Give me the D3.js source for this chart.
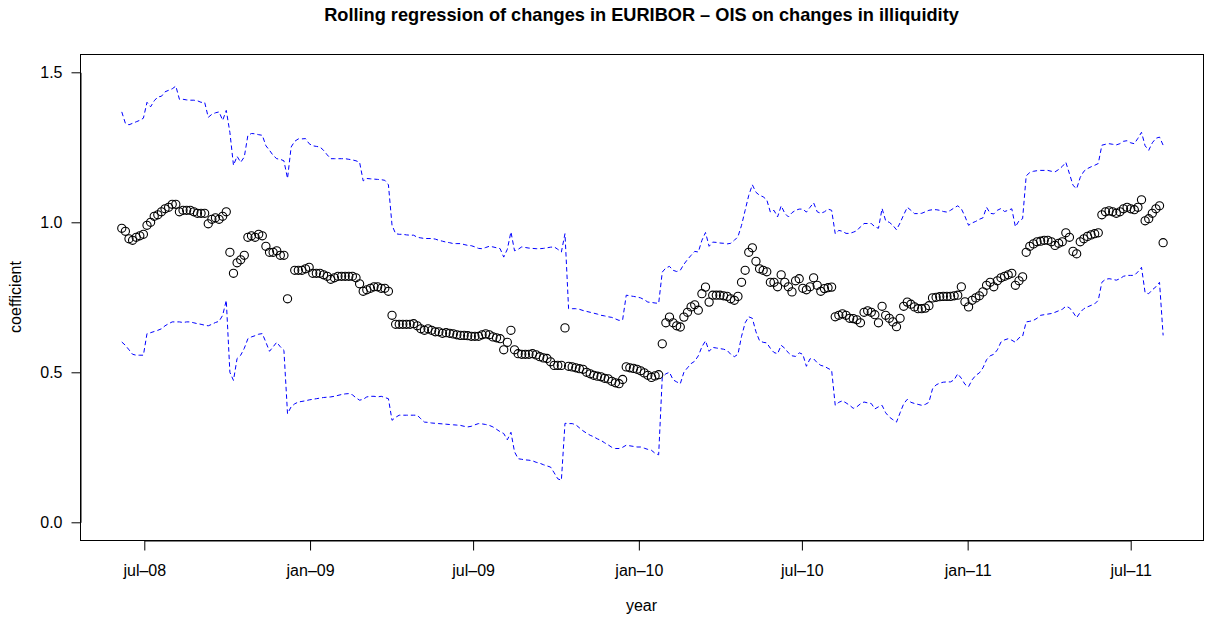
<!DOCTYPE html>
<html>
<head>
<meta charset="utf-8">
<script src="https://cdn.jsdelivr.net/npm/d3@7"></script>
<style>
  html, body { margin: 0; padding: 0; background: #fff; }
  svg { display: block; font-family: "Liberation Sans", Arial, Helvetica, sans-serif; }
</style>
</head>
<body>
<svg id="chart" width="1211" height="619"></svg>
<script>
// ---- data ----
const seriesStart = "2008-06-06";   // first observation
const seriesStepDays = 4;           // spacing of the sampled observations

const coefficient = [
  0.98,0.97,0.945,0.94,0.95,0.955,0.96,0.99,1.00,1.02,
  1.025,1.035,1.045,1.05,1.06,1.06,1.035,1.04,1.04,1.04,
  1.035,1.03,1.03,1.03,0.995,1.01,1.015,1.01,1.02,1.035,
  0.90,0.83,0.865,0.875,0.89,0.95,0.955,0.95,0.96,0.955,
  0.92,0.90,0.90,0.905,0.89,0.89,0.745,null,0.84,0.84,
  0.84,0.845,0.85,0.83,0.83,0.83,0.825,0.82,0.81,0.815,
  0.82,0.82,0.82,0.82,0.82,0.815,0.795,0.77,0.775,0.78,
  0.785,0.785,0.78,0.78,0.77,0.69,0.66,0.66,0.66,0.66,
  0.66,0.662,0.655,0.645,0.64,0.645,0.64,0.635,0.635,0.63,
  0.632,0.63,0.628,0.625,0.623,0.623,0.622,0.62,0.62,0.62,
  0.625,0.628,0.625,0.618,0.615,0.612,0.575,0.60,0.64,0.575,
  0.562,0.56,0.56,0.56,0.562,0.558,0.552,0.548,0.546,0.535,
  0.523,0.523,0.523,0.648,0.52,0.518,0.515,0.512,0.51,0.50,
  0.495,0.49,0.487,0.485,0.48,0.478,0.47,0.465,0.462,0.476,
  0.518,0.515,0.513,0.51,0.505,0.498,0.49,0.483,0.488,0.492,
  0.595,0.665,0.684,0.665,0.655,0.651,0.684,0.70,0.718,0.725,
  0.707,0.762,0.784,0.734,0.757,0.757,0.757,0.755,0.753,0.745,
  0.74,0.753,0.80,0.84,0.90,0.915,0.87,0.845,0.84,0.835,
  0.80,0.80,0.785,0.825,0.80,0.785,0.768,0.805,0.812,0.78,
  0.775,0.785,0.815,0.79,0.77,0.779,0.782,0.784,0.685,0.69,
  0.695,0.69,0.68,0.679,0.675,0.665,0.70,0.705,0.70,0.692,
  0.665,0.72,0.69,0.68,0.668,0.652,0.68,0.72,0.734,0.727,
  0.718,0.712,0.712,0.714,0.722,0.748,0.75,0.752,0.753,0.753,
  0.753,0.755,0.757,0.785,0.735,0.718,0.74,0.748,0.755,0.768,
  0.79,0.80,0.785,0.805,0.815,0.82,0.825,0.83,0.79,0.805,
  0.818,0.90,0.92,0.928,0.935,0.937,0.94,0.94,0.935,0.923,
  0.93,0.935,0.965,0.95,0.903,0.895,0.935,0.945,0.953,0.958,
  0.962,0.965,1.025,1.035,1.038,1.035,1.03,1.035,1.045,1.05,
  1.045,1.042,1.05,1.075,1.005,1.012,1.03,1.045,1.055,0.932
];

const upperBand = [
  1.368,1.33,1.325,1.33,1.335,1.34,1.347,1.40,1.385,1.405,
  1.418,1.42,1.435,1.44,1.445,1.454,1.41,1.41,1.408,1.407,
  1.407,1.405,1.40,1.40,1.35,1.36,1.365,1.368,1.34,1.373,
  1.30,1.19,1.22,1.20,1.218,1.29,1.296,1.295,1.292,1.29,
  1.255,1.24,1.223,1.212,1.21,1.205,1.146,1.251,1.27,1.278,
  1.278,1.279,1.262,1.255,1.253,1.251,1.24,1.225,1.212,1.212,
  1.212,1.212,1.212,1.21,1.208,1.205,1.20,1.138,1.146,1.145,
  1.144,1.143,1.142,1.14,1.125,0.99,0.962,0.96,0.96,0.958,
  0.957,0.957,0.95,0.948,0.946,0.946,0.946,0.944,0.94,0.937,
  0.934,0.932,0.929,0.929,0.929,0.926,0.923,0.922,0.918,0.913,
  0.912,0.916,0.92,0.918,0.915,0.912,0.884,0.91,0.968,0.905,
  0.91,0.918,0.916,0.914,0.913,0.912,0.912,0.913,0.915,0.917,
  0.918,0.91,0.901,0.962,0.712,0.712,0.712,0.71,0.706,0.703,
  0.70,0.697,0.694,0.69,0.688,0.685,0.683,0.678,0.673,0.675,
  0.757,0.755,0.753,0.751,0.748,0.742,0.734,0.733,0.731,0.73,
  0.834,0.848,0.853,0.84,0.836,0.84,0.86,0.876,0.89,0.903,
  0.901,0.94,0.966,0.92,0.934,0.933,0.931,0.93,0.928,0.93,
  0.94,0.952,0.99,1.04,1.09,1.125,1.10,1.09,1.085,1.075,
  1.034,1.04,1.018,1.055,1.03,1.018,1.032,1.04,1.044,1.044,
  1.034,1.05,1.065,1.035,1.03,1.035,1.044,1.04,0.962,0.973,
  0.97,0.963,0.963,0.967,0.972,0.985,0.996,0.996,0.996,0.985,
  0.98,1.046,1.005,1.0,0.99,0.975,0.998,1.025,1.05,1.04,
  1.029,1.029,1.03,1.035,1.04,1.042,1.042,1.04,1.036,1.034,
  1.04,1.048,1.055,1.045,1.02,0.99,0.998,1.003,1.01,1.015,
  1.05,1.03,1.028,1.04,1.046,1.036,1.04,1.045,0.985,1.005,
  1.012,1.155,1.166,1.17,1.172,1.173,1.173,1.173,1.17,1.168,
  1.176,1.186,1.20,1.162,1.123,1.112,1.15,1.17,1.179,1.185,
  1.19,1.196,1.257,1.26,1.262,1.26,1.258,1.262,1.27,1.272,
  1.265,1.262,1.28,1.30,1.255,1.24,1.265,1.28,1.284,1.257
];

const lowerBand = [
  0.601,0.59,0.575,0.56,0.557,0.557,0.557,0.629,0.632,0.636,
  0.64,0.645,0.655,0.662,0.668,0.668,0.668,0.666,0.668,0.668,
  0.665,0.662,0.66,0.657,0.655,0.66,0.666,0.67,0.69,0.74,
  0.50,0.473,0.546,0.557,0.58,0.612,0.618,0.622,0.627,0.629,
  0.60,0.57,0.585,0.60,0.585,0.573,0.362,0.385,0.395,0.401,
  0.403,0.405,0.408,0.41,0.412,0.414,0.416,0.417,0.418,0.42,
  0.423,0.426,0.428,0.429,0.425,0.415,0.407,0.41,0.418,0.42,
  0.42,0.418,0.42,0.416,0.412,0.34,0.35,0.357,0.357,0.357,
  0.357,0.357,0.357,0.345,0.334,0.333,0.331,0.33,0.329,0.328,
  0.327,0.326,0.325,0.324,0.323,0.32,0.318,0.32,0.325,0.329,
  0.328,0.326,0.323,0.318,0.31,0.302,0.296,0.275,0.30,0.235,
  0.212,0.21,0.208,0.207,0.205,0.20,0.197,0.192,0.188,0.184,
  0.165,0.145,0.14,0.33,0.329,0.329,0.325,0.315,0.305,0.297,
  0.29,0.285,0.278,0.273,0.265,0.258,0.25,0.246,0.246,0.25,
  0.257,0.255,0.253,0.251,0.251,0.247,0.243,0.24,0.23,0.225,
  0.484,0.495,0.50,0.475,0.468,0.462,0.50,0.515,0.529,0.537,
  0.555,0.585,0.605,0.57,0.583,0.581,0.579,0.577,0.573,0.56,
  0.552,0.56,0.62,0.665,0.685,0.68,0.635,0.605,0.60,0.598,
  0.58,0.566,0.562,0.59,0.58,0.565,0.555,0.553,0.565,0.56,
  0.52,0.545,0.545,0.532,0.523,0.52,0.513,0.507,0.39,0.40,
  0.405,0.398,0.39,0.38,0.385,0.395,0.401,0.398,0.396,0.378,
  0.385,0.39,0.365,0.351,0.342,0.334,0.365,0.395,0.41,0.40,
  0.396,0.393,0.39,0.393,0.40,0.445,0.458,0.464,0.467,0.468,
  0.468,0.475,0.495,0.48,0.46,0.452,0.475,0.49,0.498,0.515,
  0.542,0.555,0.56,0.575,0.601,0.608,0.612,0.607,0.60,0.615,
  0.62,0.668,0.67,0.673,0.68,0.69,0.692,0.694,0.696,0.70,
  0.705,0.71,0.72,0.715,0.70,0.682,0.70,0.712,0.718,0.723,
  0.728,0.74,0.80,0.81,0.812,0.81,0.807,0.812,0.82,0.823,
  0.823,0.823,0.835,0.85,0.765,0.762,0.775,0.785,0.80,0.623
];

const xTickDates  = ["2008-07-01","2009-01-01","2009-07-01","2010-01-01","2010-07-01","2011-01-01","2011-07-01"];
const xTickLabels = ["jul\u201308","jan\u201309","jul\u201309","jan\u201310","jul\u201310","jan\u201311","jul\u201311"];
const yTickValues = [0, 0.5, 1.0, 1.5];
const yTickLabels = ["0.0","0.5","1.0","1.5"];

const titleText = "Rolling regression of changes in EURIBOR \u2013 OIS on changes in illiquidity";
const xTitle = "year";
const yTitle = "coefficient";

// ---- layout ----
const box = { left: 80, right: 1203, top: 54, bottom: 540 };
const parse = d3.timeParse("%Y-%m-%d");
const start = parse(seriesStart);
const dates = coefficient.map((_, i) => d3.timeDay.offset(start, i * seriesStepDays));
const tickDates = xTickDates.map(parse);

const x = d3.scaleTime()
  .domain([tickDates[0], tickDates[tickDates.length - 1]])
  .range([144.3, 1130.7]);
const y = d3.scaleLinear().domain([0, 1.5]).range([522.3, 72.3]);

const svg = d3.select("#chart");
const font = '"Liberation Sans", Arial, Helvetica, sans-serif';

// plot box
svg.append("rect")
  .attr("x", box.left + 0.5).attr("y", box.top + 0.5)
  .attr("width", box.right - box.left).attr("height", box.bottom - box.top)
  .attr("fill", "none").attr("stroke", "#000").attr("stroke-width", 1);

// bands
const line = d3.line()
  .defined(d => d.v != null)
  .x(d => x(d.date)).y(d => y(d.v));

[upperBand, lowerBand].forEach(band => {
  svg.append("path")
    .datum(band.map((v, i) => ({ date: dates[i], v })))
    .attr("d", line)
    .attr("fill", "none")
    .attr("stroke", "#0000ff")
    .attr("stroke-width", 1)
    .attr("stroke-dasharray", "4.5,3");
});

// coefficient points
svg.append("g")
  .selectAll("circle")
  .data(coefficient.map((v, i) => ({ date: dates[i], v })).filter(d => d.v != null))
  .join("circle")
  .attr("cx", d => x(d.date))
  .attr("cy", d => y(d.v))
  .attr("r", 4.1)
  .attr("fill", "none")
  .attr("stroke", "#000")
  .attr("stroke-width", 1.1);

// x axis
const xAxis = d3.axisBottom(x)
  .tickValues(tickDates)
  .tickFormat((d, i) => xTickLabels[i])
  .tickSize(10).tickSizeOuter(0);
const gx = svg.append("g").attr("transform", `translate(0,${box.bottom + 0.5})`).call(xAxis);
gx.selectAll("text").attr("y", 35).attr("dy", 0)
  .attr("font-size", 16).attr("font-family", font).attr("fill", "#000");

// y axis
const yAxis = d3.axisLeft(y)
  .tickValues(yTickValues)
  .tickFormat((d, i) => yTickLabels[i])
  .tickSize(9).tickSizeOuter(0);
const gy = svg.append("g").attr("transform", `translate(${box.left + 0.5},0)`).call(yAxis);
gy.selectAll("text").attr("x", -18).attr("dy", "0.35em")
  .attr("font-size", 16).attr("font-family", font).attr("fill", "#000");

svg.selectAll(".domain, .tick line").attr("stroke", "#000");

// titles
svg.append("text")
  .attr("x", (box.left + box.right) / 2).attr("y", 21)
  .attr("text-anchor", "middle")
  .attr("font-size", 18.2).attr("font-weight", "bold").attr("font-family", font)
  .text(titleText);

svg.append("text")
  .attr("x", (box.left + box.right) / 2).attr("y", 611)
  .attr("text-anchor", "middle")
  .attr("font-size", 16).attr("font-family", font)
  .text(xTitle);

svg.append("text")
  .attr("transform", `translate(21,${(box.top + box.bottom) / 2}) rotate(-90)`)
  .attr("text-anchor", "middle")
  .attr("font-size", 16).attr("font-family", font)
  .text(yTitle);
</script>
</body>
</html>
